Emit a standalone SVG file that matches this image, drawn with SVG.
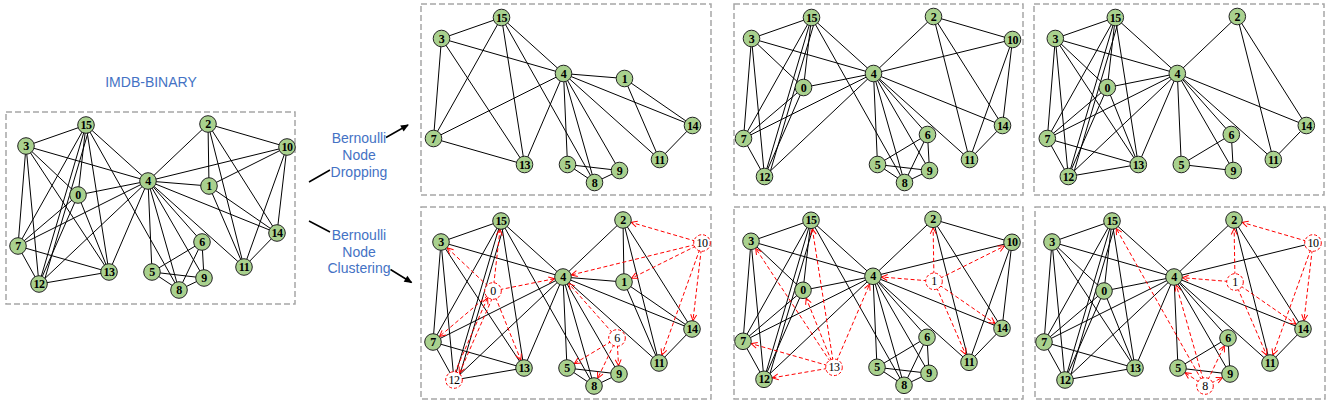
<svg xmlns="http://www.w3.org/2000/svg" width="1330" height="406" viewBox="0 0 1330 406">
<style>
.bg{fill:#fff}
.box{fill:none;stroke:#a6a6a6;stroke-width:1.5;stroke-dasharray:6 3}
.e path{stroke:#000;stroke-width:1;fill:none}
.r path{stroke:#f00;stroke-width:1;stroke-dasharray:4 2.5;fill:none;marker-end:url(#ra)}
.n circle{fill:#a9d18e;stroke:#222;stroke-width:1}
.n text{font-family:"Liberation Serif",serif;font-weight:bold;font-size:12px;text-anchor:middle;fill:#000;letter-spacing:-0.4px}
.c circle{fill:#fff;stroke:#f00;stroke-width:1;stroke-dasharray:3 2}
.c text{font-family:"Liberation Serif",serif;font-size:12px;text-anchor:middle;fill:#000;letter-spacing:-0.4px}
.lbl{font-family:"Liberation Sans",Arial,sans-serif;font-size:14px;fill:#4472c4;text-anchor:middle}
.arr{stroke:#000;stroke-width:1.5;fill:none;marker-end:url(#ba)}
</style>
<defs>
<marker id="ra" markerUnits="userSpaceOnUse" markerWidth="20" markerHeight="20" refX="14.5" refY="3" orient="auto" overflow="visible"><path d="M0,0 L6,3 L0,6" fill="none" stroke="#f00" stroke-width="1"/></marker>
<marker id="ba" markerUnits="userSpaceOnUse" markerWidth="12" markerHeight="12" refX="7" refY="3.5" orient="auto" overflow="visible"><path d="M0,0 L8,3.5 L0,7 z" fill="#000"/></marker>
</defs>
<rect class="bg" width="1330" height="406"/>
<text class="lbl" x="151" y="86.5">IMDB-BINARY</text>
<rect class="box" x="6" y="112" width="289" height="192"/>
<rect class="box" x="421" y="4" width="290" height="191"/>
<rect class="box" x="734" y="4" width="289" height="191"/>
<rect class="box" x="1034" y="4" width="290" height="191"/>
<rect class="box" x="421" y="207" width="290" height="192"/>
<rect class="box" x="734" y="207" width="289" height="192"/>
<rect class="box" x="1035" y="207" width="290" height="192"/>
<g id="labels">
<text class="lbl" x="359" y="142.7">Bernoulli</text>
<text class="lbl" x="359" y="159.5">Node</text>
<text class="lbl" x="359" y="176.5">Dropping</text>
<text class="lbl" x="359" y="240">Bernoulli</text>
<text class="lbl" x="359" y="256.7">Node</text>
<text class="lbl" x="359" y="273.3">Clustering</text>
</g>
<g id="main-arrows">
<path class="arr" d="M309,182 L330,170 M386,137.5 L408,125"/>
<path class="arr" d="M309,221 L330,232 M390.5,269.5 L411.5,282.5"/>
</g>

<!-- Panel 0: original -->
<g id="g0">
<g id="g0-edges" class="e">
<path d="M26 146L86 125"/><path d="M26 146L18 246"/><path d="M26 146L39 284"/><path d="M26 146L78 195"/><path d="M26 146L109 272"/><path d="M26 146L148 181"/>
<path d="M86 125L18 246"/><path d="M86 125L39 284"/><path d="M90 126L43 285"/><path d="M86 125L78 195"/><path d="M86 125L109 272"/><path d="M86 125L148 181"/><path d="M86 125L179 290"/>
<path d="M78 195L148 181"/><path d="M78 195L18 246"/><path d="M78 195L39 284"/><path d="M78 195L109 272"/>
<path d="M18 246L148 181"/><path d="M18 246L109 272"/><path d="M18 246L39 284"/>
<path d="M39 284L148 181"/><path d="M39 284L109 272"/><path d="M109 272L148 181"/>
<path d="M148 181L208 124"/><path d="M148 181L287 147"/><path d="M148 181L209 186"/><path d="M148 181L277 233"/><path d="M148 181L244 267"/><path d="M148 181L152 272"/><path d="M148 181L179 290"/><path d="M148 181L204 278"/><path d="M148 181L202 242"/>
<path d="M208 124L209 186"/><path d="M208 124L287 147"/><path d="M208 124L244 267"/><path d="M208 124L277 233"/>
<path d="M287 147L209 186"/><path d="M287 147L244 267"/><path d="M287 147L277 233"/>
<path d="M209 186L244 267"/><path d="M209 186L277 233"/><path d="M277 233L244 267"/>
<path d="M202 242L152 272"/><path d="M202 242L179 290"/><path d="M202 242L204 278"/><path d="M152 272L204 278"/><path d="M152 272L179 290"/><path d="M179 290L204 278"/>
</g>
<g id="g0-n0" class="n"><circle cx="78" cy="195" r="8.3"/><text x="78" y="199">0</text></g>
<g id="g0-n1" class="n"><circle cx="209" cy="186" r="8.3"/><text x="209" y="190">1</text></g>
<g id="g0-n2" class="n"><circle cx="208" cy="124" r="8.3"/><text x="208" y="128">2</text></g>
<g id="g0-n3" class="n"><circle cx="26" cy="146" r="8.3"/><text x="26" y="150">3</text></g>
<g id="g0-n4" class="n"><circle cx="148" cy="181" r="8.3"/><text x="148" y="185">4</text></g>
<g id="g0-n5" class="n"><circle cx="152" cy="272" r="8.3"/><text x="152" y="276">5</text></g>
<g id="g0-n6" class="n"><circle cx="202" cy="242" r="8.3"/><text x="202" y="246">6</text></g>
<g id="g0-n7" class="n"><circle cx="18" cy="246" r="8.3"/><text x="18" y="250">7</text></g>
<g id="g0-n8" class="n"><circle cx="179" cy="290" r="8.3"/><text x="179" y="294">8</text></g>
<g id="g0-n9" class="n"><circle cx="204" cy="278" r="8.3"/><text x="204" y="282">9</text></g>
<g id="g0-n10" class="n"><circle cx="287" cy="147" r="8.3"/><text x="287" y="151">10</text></g>
<g id="g0-n11" class="n"><circle cx="244" cy="267" r="8.3"/><text x="244" y="271">11</text></g>
<g id="g0-n12" class="n"><circle cx="39" cy="284" r="8.3"/><text x="39" y="288">12</text></g>
<g id="g0-n13" class="n"><circle cx="109" cy="272" r="8.3"/><text x="109" y="276">13</text></g>
<g id="g0-n14" class="n"><circle cx="277" cy="233" r="8.3"/><text x="277" y="237">14</text></g>
<g id="g0-n15" class="n"><circle cx="86" cy="125" r="8.3"/><text x="86" y="129">15</text></g>
</g>

<!-- Panel 1: dropping -->
<g id="g1" transform="translate(415.5,-107.5)">
<g id="g1-edges" class="e">
<path d="M26 146L86 125"/><path d="M26 146L18 246"/><path d="M26 146L109 272"/><path d="M26 146L148 181"/>
<path d="M86 125L18 246"/><path d="M86 125L109 272"/><path d="M86 125L148 181"/><path d="M86 125L179 290"/>
<path d="M18 246L148 181"/><path d="M18 246L109 272"/><path d="M109 272L148 181"/>
<path d="M148 181L209 186"/><path d="M148 181L277 233"/><path d="M148 181L244 267"/><path d="M148 181L152 272"/><path d="M148 181L179 290"/><path d="M148 181L204 278"/>
<path d="M209 186L244 267"/><path d="M209 186L277 233"/><path d="M277 233L244 267"/>
<path d="M152 272L204 278"/><path d="M152 272L179 290"/><path d="M179 290L204 278"/>
</g>
<g id="g1-n1" class="n"><circle cx="209" cy="186" r="8.3"/><text x="209" y="190">1</text></g>
<g id="g1-n3" class="n"><circle cx="26" cy="146" r="8.3"/><text x="26" y="150">3</text></g>
<g id="g1-n4" class="n"><circle cx="148" cy="181" r="8.3"/><text x="148" y="185">4</text></g>
<g id="g1-n5" class="n"><circle cx="152" cy="272" r="8.3"/><text x="152" y="276">5</text></g>
<g id="g1-n7" class="n"><circle cx="18" cy="246" r="8.3"/><text x="18" y="250">7</text></g>
<g id="g1-n8" class="n"><circle cx="179" cy="290" r="8.3"/><text x="179" y="294">8</text></g>
<g id="g1-n9" class="n"><circle cx="204" cy="278" r="8.3"/><text x="204" y="282">9</text></g>
<g id="g1-n11" class="n"><circle cx="244" cy="267" r="8.3"/><text x="244" y="271">11</text></g>
<g id="g1-n13" class="n"><circle cx="109" cy="272" r="8.3"/><text x="109" y="276">13</text></g>
<g id="g1-n14" class="n"><circle cx="277" cy="233" r="8.3"/><text x="277" y="237">14</text></g>
<g id="g1-n15" class="n"><circle cx="86" cy="125" r="8.3"/><text x="86" y="129">15</text></g>
</g>

<!-- Panel 2: dropping -->
<g id="g2" transform="translate(725.5,-107.5)">
<g id="g2-edges" class="e">
<path d="M26 146L86 125"/><path d="M26 146L18 246"/><path d="M26 146L39 284"/><path d="M26 146L78 195"/><path d="M26 146L148 181"/>
<path d="M86 125L18 246"/><path d="M86 125L39 284"/><path d="M90 126L43 285"/><path d="M86 125L78 195"/><path d="M86 125L148 181"/><path d="M86 125L179 290"/>
<path d="M78 195L148 181"/><path d="M78 195L18 246"/><path d="M78 195L39 284"/>
<path d="M18 246L148 181"/><path d="M18 246L39 284"/><path d="M39 284L148 181"/>
<path d="M148 181L208 124"/><path d="M148 181L287 147"/><path d="M148 181L277 233"/><path d="M148 181L244 267"/><path d="M148 181L152 272"/><path d="M148 181L179 290"/><path d="M148 181L204 278"/><path d="M148 181L202 242"/>
<path d="M208 124L287 147"/><path d="M208 124L244 267"/><path d="M208 124L277 233"/>
<path d="M287 147L244 267"/><path d="M287 147L277 233"/><path d="M277 233L244 267"/>
<path d="M202 242L152 272"/><path d="M202 242L179 290"/><path d="M202 242L204 278"/><path d="M152 272L204 278"/><path d="M152 272L179 290"/><path d="M179 290L204 278"/>
</g>
<g id="g2-n0" class="n"><circle cx="78" cy="195" r="8.3"/><text x="78" y="199">0</text></g>
<g id="g2-n2" class="n"><circle cx="208" cy="124" r="8.3"/><text x="208" y="128">2</text></g>
<g id="g2-n3" class="n"><circle cx="26" cy="146" r="8.3"/><text x="26" y="150">3</text></g>
<g id="g2-n4" class="n"><circle cx="148" cy="181" r="8.3"/><text x="148" y="185">4</text></g>
<g id="g2-n5" class="n"><circle cx="152" cy="272" r="8.3"/><text x="152" y="276">5</text></g>
<g id="g2-n6" class="n"><circle cx="202" cy="242" r="8.3"/><text x="202" y="246">6</text></g>
<g id="g2-n7" class="n"><circle cx="18" cy="246" r="8.3"/><text x="18" y="250">7</text></g>
<g id="g2-n8" class="n"><circle cx="179" cy="290" r="8.3"/><text x="179" y="294">8</text></g>
<g id="g2-n9" class="n"><circle cx="204" cy="278" r="8.3"/><text x="204" y="282">9</text></g>
<g id="g2-n10" class="n"><circle cx="287" cy="147" r="8.3"/><text x="287" y="151">10</text></g>
<g id="g2-n11" class="n"><circle cx="244" cy="267" r="8.3"/><text x="244" y="271">11</text></g>
<g id="g2-n12" class="n"><circle cx="39" cy="284" r="8.3"/><text x="39" y="288">12</text></g>
<g id="g2-n14" class="n"><circle cx="277" cy="233" r="8.3"/><text x="277" y="237">14</text></g>
<g id="g2-n15" class="n"><circle cx="86" cy="125" r="8.3"/><text x="86" y="129">15</text></g>
</g>

<!-- Panel 3: dropping -->
<g id="g3" transform="translate(1029.3,-107.5)">
<g id="g3-edges" class="e">
<path d="M26 146L86 125"/><path d="M26 146L18 246"/><path d="M26 146L39 284"/><path d="M26 146L78 195"/><path d="M26 146L109 272"/><path d="M26 146L148 181"/>
<path d="M86 125L18 246"/><path d="M86 125L39 284"/><path d="M90 126L43 285"/><path d="M86 125L78 195"/><path d="M86 125L109 272"/><path d="M86 125L148 181"/>
<path d="M78 195L148 181"/><path d="M78 195L18 246"/><path d="M78 195L39 284"/><path d="M78 195L109 272"/>
<path d="M18 246L148 181"/><path d="M18 246L109 272"/><path d="M18 246L39 284"/>
<path d="M39 284L148 181"/><path d="M39 284L109 272"/><path d="M109 272L148 181"/>
<path d="M148 181L208 124"/><path d="M148 181L277 233"/><path d="M148 181L244 267"/><path d="M148 181L152 272"/><path d="M148 181L204 278"/><path d="M148 181L202 242"/>
<path d="M208 124L244 267"/><path d="M208 124L277 233"/><path d="M277 233L244 267"/>
<path d="M202 242L152 272"/><path d="M202 242L204 278"/><path d="M152 272L204 278"/>
</g>
<g id="g3-n0" class="n"><circle cx="78" cy="195" r="8.3"/><text x="78" y="199">0</text></g>
<g id="g3-n2" class="n"><circle cx="208" cy="124" r="8.3"/><text x="208" y="128">2</text></g>
<g id="g3-n3" class="n"><circle cx="26" cy="146" r="8.3"/><text x="26" y="150">3</text></g>
<g id="g3-n4" class="n"><circle cx="148" cy="181" r="8.3"/><text x="148" y="185">4</text></g>
<g id="g3-n5" class="n"><circle cx="152" cy="272" r="8.3"/><text x="152" y="276">5</text></g>
<g id="g3-n6" class="n"><circle cx="202" cy="242" r="8.3"/><text x="202" y="246">6</text></g>
<g id="g3-n7" class="n"><circle cx="18" cy="246" r="8.3"/><text x="18" y="250">7</text></g>
<g id="g3-n9" class="n"><circle cx="204" cy="278" r="8.3"/><text x="204" y="282">9</text></g>
<g id="g3-n11" class="n"><circle cx="244" cy="267" r="8.3"/><text x="244" y="271">11</text></g>
<g id="g3-n12" class="n"><circle cx="39" cy="284" r="8.3"/><text x="39" y="288">12</text></g>
<g id="g3-n13" class="n"><circle cx="109" cy="272" r="8.3"/><text x="109" y="276">13</text></g>
<g id="g3-n14" class="n"><circle cx="277" cy="233" r="8.3"/><text x="277" y="237">14</text></g>
<g id="g3-n15" class="n"><circle cx="86" cy="125" r="8.3"/><text x="86" y="129">15</text></g>
</g>

<!-- Panel 4: clustering -->
<g id="g4" transform="translate(415,96)">
<g id="g4-edges" class="e">
<path d="M26 146L86 125"/><path d="M26 146L18 246"/><path d="M26 146L39 284"/><path d="M26 146L109 272"/><path d="M26 146L148 181"/>
<path d="M86 125L18 246"/><path d="M86 125L39 284"/><path d="M90 126L43 285"/><path d="M86 125L109 272"/><path d="M86 125L148 181"/><path d="M86 125L179 290"/>
<path d="M18 246L148 181"/><path d="M18 246L109 272"/><path d="M18 246L39 284"/>
<path d="M39 284L148 181"/><path d="M39 284L109 272"/><path d="M109 272L148 181"/>
<path d="M148 181L208 124"/><path d="M148 181L209 186"/><path d="M148 181L277 233"/><path d="M148 181L244 267"/><path d="M148 181L152 272"/><path d="M148 181L179 290"/><path d="M148 181L204 278"/>
<path d="M208 124L209 186"/><path d="M208 124L244 267"/><path d="M208 124L277 233"/>
<path d="M209 186L244 267"/><path d="M209 186L277 233"/><path d="M277 233L244 267"/>
<path d="M152 272L204 278"/><path d="M152 272L179 290"/><path d="M179 290L204 278"/>
</g>
<g id="g4-redges" class="r">
<path d="M78 195L26 146"/><path d="M78 195L86 125"/><path d="M78 195L148 181"/><path d="M78 195L18 246"/><path d="M78 195L109 272"/>
<path d="M80 196L41 285"/><path d="M37 283L76 194"/>
<path d="M202 242L148 181"/><path d="M202 242L152 272"/><path d="M202 242L179 290"/><path d="M202 242L204 278"/>
<path d="M287 147L208 124"/><path d="M287 147L148 181"/><path d="M287 147L209 186"/><path d="M287 147L277 233"/><path d="M287 147L244 267"/>
</g>
<g id="g4-n0" class="c"><circle cx="78" cy="195" r="8.3"/><text x="78" y="199">0</text></g>
<g id="g4-n1" class="n"><circle cx="209" cy="186" r="8.3"/><text x="209" y="190">1</text></g>
<g id="g4-n2" class="n"><circle cx="208" cy="124" r="8.3"/><text x="208" y="128">2</text></g>
<g id="g4-n3" class="n"><circle cx="26" cy="146" r="8.3"/><text x="26" y="150">3</text></g>
<g id="g4-n4" class="n"><circle cx="148" cy="181" r="8.3"/><text x="148" y="185">4</text></g>
<g id="g4-n5" class="n"><circle cx="152" cy="272" r="8.3"/><text x="152" y="276">5</text></g>
<g id="g4-n6" class="c"><circle cx="202" cy="242" r="8.3"/><text x="202" y="246">6</text></g>
<g id="g4-n7" class="n"><circle cx="18" cy="246" r="8.3"/><text x="18" y="250">7</text></g>
<g id="g4-n8" class="n"><circle cx="179" cy="290" r="8.3"/><text x="179" y="294">8</text></g>
<g id="g4-n9" class="n"><circle cx="204" cy="278" r="8.3"/><text x="204" y="282">9</text></g>
<g id="g4-n10" class="c"><circle cx="287" cy="147" r="8.3"/><text x="287" y="151">10</text></g>
<g id="g4-n11" class="n"><circle cx="244" cy="267" r="8.3"/><text x="244" y="271">11</text></g>
<g id="g4-n12" class="c"><circle cx="39" cy="284" r="8.3"/><text x="39" y="288">12</text></g>
<g id="g4-n13" class="n"><circle cx="109" cy="272" r="8.3"/><text x="109" y="276">13</text></g>
<g id="g4-n14" class="n"><circle cx="277" cy="233" r="8.3"/><text x="277" y="237">14</text></g>
<g id="g4-n15" class="n"><circle cx="86" cy="125" r="8.3"/><text x="86" y="129">15</text></g>
</g>

<!-- Panel 5: clustering -->
<g id="g5" transform="translate(725,95.3)">
<g id="g5-edges" class="e">
<path d="M26 146L86 125"/><path d="M26 146L18 246"/><path d="M26 146L39 284"/><path d="M26 146L78 195"/><path d="M26 146L148 181"/>
<path d="M86 125L18 246"/><path d="M86 125L39 284"/><path d="M90 126L43 285"/><path d="M86 125L78 195"/><path d="M86 125L148 181"/><path d="M86 125L179 290"/>
<path d="M78 195L148 181"/><path d="M78 195L18 246"/><path d="M78 195L39 284"/>
<path d="M18 246L148 181"/><path d="M18 246L39 284"/><path d="M39 284L148 181"/>
<path d="M148 181L208 124"/><path d="M148 181L287 147"/><path d="M148 181L277 233"/><path d="M148 181L244 267"/><path d="M148 181L152 272"/><path d="M148 181L179 290"/><path d="M148 181L204 278"/><path d="M148 181L202 242"/>
<path d="M208 124L287 147"/><path d="M208 124L244 267"/><path d="M208 124L277 233"/>
<path d="M287 147L244 267"/><path d="M287 147L277 233"/><path d="M277 233L244 267"/>
<path d="M202 242L152 272"/><path d="M202 242L179 290"/><path d="M202 242L204 278"/><path d="M152 272L204 278"/><path d="M152 272L179 290"/><path d="M179 290L204 278"/>
</g>
<g id="g5-redges" class="r">
<path d="M109 272L26 146"/><path d="M109 272L86 125"/><path d="M109 272L78 195"/><path d="M109 272L148 181"/><path d="M109 272L18 246"/><path d="M109 272L39 284"/>
<path d="M209 186L208 124"/><path d="M209 186L287 147"/><path d="M209 186L148 181"/><path d="M209 186L277 233"/><path d="M209 186L244 267"/>
</g>
<g id="g5-n0" class="n"><circle cx="78" cy="195" r="8.3"/><text x="78" y="199">0</text></g>
<g id="g5-n1" class="c"><circle cx="209" cy="186" r="8.3"/><text x="209" y="190">1</text></g>
<g id="g5-n2" class="n"><circle cx="208" cy="124" r="8.3"/><text x="208" y="128">2</text></g>
<g id="g5-n3" class="n"><circle cx="26" cy="146" r="8.3"/><text x="26" y="150">3</text></g>
<g id="g5-n4" class="n"><circle cx="148" cy="181" r="8.3"/><text x="148" y="185">4</text></g>
<g id="g5-n5" class="n"><circle cx="152" cy="272" r="8.3"/><text x="152" y="276">5</text></g>
<g id="g5-n6" class="n"><circle cx="202" cy="242" r="8.3"/><text x="202" y="246">6</text></g>
<g id="g5-n7" class="n"><circle cx="18" cy="246" r="8.3"/><text x="18" y="250">7</text></g>
<g id="g5-n8" class="n"><circle cx="179" cy="290" r="8.3"/><text x="179" y="294">8</text></g>
<g id="g5-n9" class="n"><circle cx="204" cy="278" r="8.3"/><text x="204" y="282">9</text></g>
<g id="g5-n10" class="n"><circle cx="287" cy="147" r="8.3"/><text x="287" y="151">10</text></g>
<g id="g5-n11" class="n"><circle cx="244" cy="267" r="8.3"/><text x="244" y="271">11</text></g>
<g id="g5-n12" class="n"><circle cx="39" cy="284" r="8.3"/><text x="39" y="288">12</text></g>
<g id="g5-n13" class="c"><circle cx="109" cy="272" r="8.3"/><text x="109" y="276">13</text></g>
<g id="g5-n14" class="n"><circle cx="277" cy="233" r="8.3"/><text x="277" y="237">14</text></g>
<g id="g5-n15" class="n"><circle cx="86" cy="125" r="8.3"/><text x="86" y="129">15</text></g>
</g>

<!-- Panel 6: clustering -->
<g id="g6" transform="translate(1026,96)">
<g id="g6-edges" class="e">
<path d="M26 146L86 125"/><path d="M26 146L18 246"/><path d="M26 146L39 284"/><path d="M26 146L78 195"/><path d="M26 146L109 272"/><path d="M26 146L148 181"/>
<path d="M86 125L18 246"/><path d="M86 125L39 284"/><path d="M90 126L43 285"/><path d="M86 125L78 195"/><path d="M86 125L109 272"/><path d="M86 125L148 181"/>
<path d="M78 195L148 181"/><path d="M78 195L18 246"/><path d="M78 195L39 284"/><path d="M78 195L109 272"/>
<path d="M18 246L148 181"/><path d="M18 246L109 272"/><path d="M18 246L39 284"/>
<path d="M39 284L148 181"/><path d="M39 284L109 272"/><path d="M109 272L148 181"/>
<path d="M148 181L208 124"/><path d="M148 181L287 147"/><path d="M148 181L277 233"/><path d="M148 181L244 267"/><path d="M148 181L152 272"/><path d="M148 181L204 278"/><path d="M148 181L202 242"/>
<path d="M208 124L244 267"/><path d="M208 124L277 233"/><path d="M277 233L244 267"/>
<path d="M202 242L152 272"/><path d="M202 242L204 278"/><path d="M152 272L204 278"/>
</g>
<g id="g6-redges" class="r">
<path d="M179 290L86 125"/><path d="M179 290L148 181"/><path d="M179 290L152 272"/><path d="M179 290L202 242"/><path d="M179 290L204 278"/>
<path d="M209 186L208 124"/><path d="M209 186L148 181"/><path d="M209 186L277 233"/><path d="M209 186L244 267"/>
<path d="M287 147L208 124"/><path d="M287 147L277 233"/><path d="M287 147L244 267"/>
</g>
<g id="g6-n0" class="n"><circle cx="78" cy="195" r="8.3"/><text x="78" y="199">0</text></g>
<g id="g6-n1" class="c"><circle cx="209" cy="186" r="8.3"/><text x="209" y="190">1</text></g>
<g id="g6-n2" class="n"><circle cx="208" cy="124" r="8.3"/><text x="208" y="128">2</text></g>
<g id="g6-n3" class="n"><circle cx="26" cy="146" r="8.3"/><text x="26" y="150">3</text></g>
<g id="g6-n4" class="n"><circle cx="148" cy="181" r="8.3"/><text x="148" y="185">4</text></g>
<g id="g6-n5" class="n"><circle cx="152" cy="272" r="8.3"/><text x="152" y="276">5</text></g>
<g id="g6-n6" class="n"><circle cx="202" cy="242" r="8.3"/><text x="202" y="246">6</text></g>
<g id="g6-n7" class="n"><circle cx="18" cy="246" r="8.3"/><text x="18" y="250">7</text></g>
<g id="g6-n8" class="c"><circle cx="179" cy="290" r="8.3"/><text x="179" y="294">8</text></g>
<g id="g6-n9" class="n"><circle cx="204" cy="278" r="8.3"/><text x="204" y="282">9</text></g>
<g id="g6-n10" class="c"><circle cx="287" cy="147" r="8.3"/><text x="287" y="151">10</text></g>
<g id="g6-n11" class="n"><circle cx="244" cy="267" r="8.3"/><text x="244" y="271">11</text></g>
<g id="g6-n12" class="n"><circle cx="39" cy="284" r="8.3"/><text x="39" y="288">12</text></g>
<g id="g6-n13" class="n"><circle cx="109" cy="272" r="8.3"/><text x="109" y="276">13</text></g>
<g id="g6-n14" class="n"><circle cx="277" cy="233" r="8.3"/><text x="277" y="237">14</text></g>
<g id="g6-n15" class="n"><circle cx="86" cy="125" r="8.3"/><text x="86" y="129">15</text></g>
</g>
</svg>
